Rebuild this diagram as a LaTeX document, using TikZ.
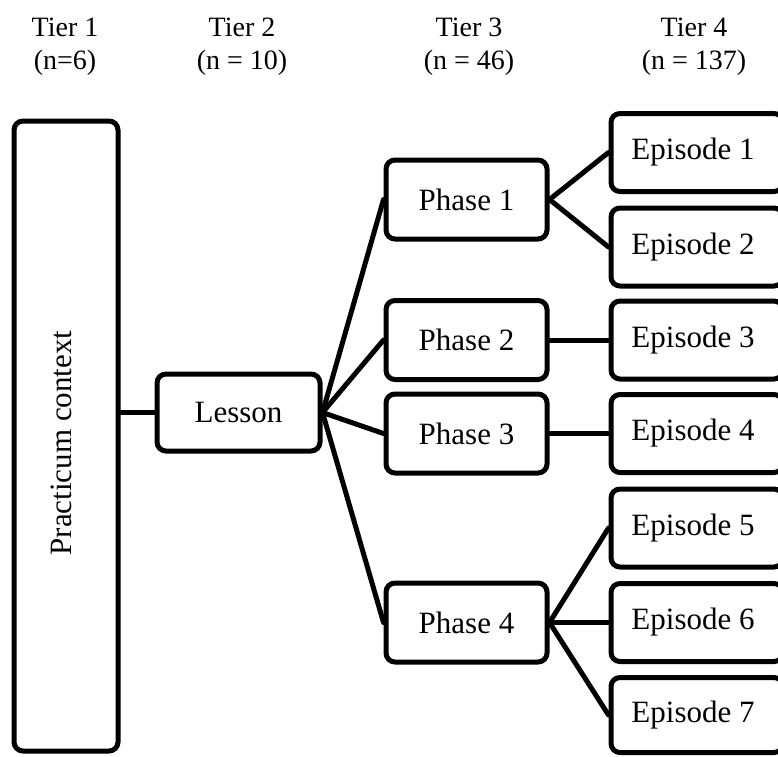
\documentclass[tikz,border=0pt]{standalone}
\usepackage{fontspec}
\setmainfont{Liberation Serif}
\begin{document}
\begin{tikzpicture}[x=1pt,y=-1pt,
  box/.style={draw=black,line width=5pt,rounded corners=9pt,fill=white,inner sep=0pt,
    font=\fontsize{31}{34}\selectfont},
  phasebox/.style={box,minimum width=161pt,minimum height=79pt},
  epbox/.style={box,minimum width=172pt,minimum height=78pt},
  conn/.style={line width=5pt,line cap=round},
  tier/.style={align=center,font=\fontsize{28}{33}\selectfont,inner sep=0pt}]
\useasboundingbox (0,0) rectangle (778,756);
% headers
\node[tier] (t1) at (65,47) {Tier 1\\ (n=6)};
\node[tier] (t2) at (242,47) {Tier 2\\ (n = 10)};
\node[tier] (t3) at (469,47) {Tier 3\\ (n = 46)};
\node[tier] (t4) at (694,47) {Tier 4\\ (n = 137)};
% boxes
\node[box,minimum width=104pt,minimum height=630pt] (prac) at (66,436) {};
\node[rotate=90,font=\fontsize{31}{34}\selectfont,inner sep=0pt] (practxt) at (61,443) {Practicum context};
\node[box,minimum width=163pt,minimum height=77pt] (lesson) at (238.5,412.5) {Lesson};
\node[phasebox] (p1) at (466.5,199.5) {Phase 1};
\node[phasebox] (p2) at (466.5,340) {Phase 2};
\node[phasebox] (p3) at (466.5,433.5) {Phase 3};
\node[phasebox] (p4) at (466.5,622.5) {Phase 4};
\node[epbox] (e1) at (697,152.5) {\hspace*{-8pt}Episode 1};
\node[epbox] (e2) at (697,247) {\hspace*{-8pt}Episode 2};
\node[epbox] (e3) at (697,340) {\hspace*{-8pt}Episode 3};
\node[epbox] (e4) at (697,433.5) {\hspace*{-8pt}Episode 4};
\node[epbox] (e5) at (697,528) {\hspace*{-8pt}Episode 5};
\node[epbox] (e6) at (697,622.5) {\hspace*{-8pt}Episode 6};
\node[epbox,minimum height=75pt] (e7) at (697,715) {\hspace*{-8pt}Episode 7};
% connectors
\draw[conn] (prac.east |- lesson.west) -- (lesson.west);
\foreach \p in {p1,p2,p3,p4} \draw[conn] (lesson.east) -- (\p.west);
\draw[conn] (p1.east) -- (e1.west);
\draw[conn] (p1.east) -- (e2.west);
\draw[conn] (p2.east) -- (e3.west);
\draw[conn] (p3.east) -- (e4.west);
\draw[conn] (p4.east) -- (e5.west);
\draw[conn] (p4.east) -- (e6.west);
\draw[conn] (p4.east) -- (e7.west);
\end{tikzpicture}
\end{document}
